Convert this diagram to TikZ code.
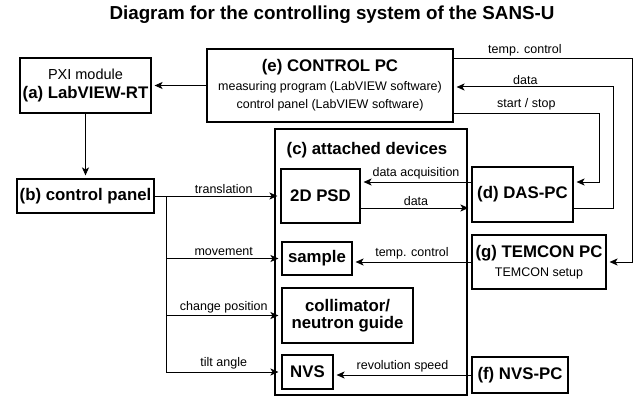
\documentclass[tikz,border=0pt]{standalone}
\usepackage{fontspec}
\setmainfont{Liberation Sans}
\usetikzlibrary{arrows.meta}

\newcommand\txtreg{\fontsize{12.5}{15}\selectfont\mdseries}
\newcommand\txtbold{\fontsize{16.8}{19}\selectfont\bfseries}
\newcommand\txttitle{\fontsize{18.8}{22}\selectfont\bfseries}

\begin{document}
\begin{tikzpicture}[x=1pt, y=-1pt,
  unit/.style={draw, line width=1.1pt, inner sep=0pt, align=center, font=\txtbold},
  link/.style={->, line width=1pt, >={Stealth[length=8pt,width=7pt,inset=2pt]}, shorten >=3pt},
  tag/.style={font=\txtreg, inner sep=2pt}]
\useasboundingbox (0,0) rectangle (640,396);
\node[font=\txttitle] (title) at (332,15) {Diagram for the controlling system of the SANS-U};
% PCs and panel
\node[unit, minimum width=131pt, minimum height=55pt] (rt) at (85.5,85.5) {{\fontsize{14.5}{17}\selectfont\mdseries PXI module}\\(a) LabVIEW-RT};
\node[unit, minimum width=246pt, minimum height=73pt] (ctrl) at (330,85.5) {(e) CONTROL PC\\{\txtreg measuring program (LabVIEW software)}\\[-1pt]{\txtreg control panel (LabVIEW software)}};
\node[unit, minimum width=137pt, minimum height=34pt] (panel) at (85.5,196) {(b) control panel};
\node[unit, minimum width=101pt, minimum height=55pt] (das) at (522.5,194.5) {(d) DAS-PC};
\node[unit, minimum width=134pt, minimum height=54pt] (temcon) at (539,262) {(g) TEMCON PC\\{\txtreg TEMCON setup}};
\node[unit, minimum width=96pt, minimum height=36pt] (nvspc) at (520,375) {(f) NVS-PC};
% Attached devices
\node[draw, line width=1.1pt, minimum width=192pt, minimum height=266pt] (devices) at (371,262) {};
\node[font=\txtbold] (devlabel) at (367,150) {(c) attached devices};
\node[unit, minimum width=79pt, minimum height=54pt] (psd) at (320.5,196) {2D PSD};
\node[unit, minimum width=70pt, minimum height=33pt] (sample) at (317,258.5) {sample};
\node[unit, minimum width=131pt, minimum height=55pt] (colli) at (347.5,315.5) {collimator/\\[-2pt]neutron guide};
\node[unit, minimum width=51pt, minimum height=34pt] (nvs) at (307.5,372) {NVS};
% Arrows
\coordinate (fork) at (166,196);
\draw[link] (ctrl.west) -- (rt.east);
\draw[link] (rt.south) -- (panel.north);
\draw[link] (panel.east) -- node[tag, above, pos=0.55] {translation} (psd.west);
\draw[link] (fork) |- node[tag, above, pos=0.75] {movement} (sample.west);
\draw[link] (fork) |- node[tag, above, pos=0.75] {change position} (colli.west);
\draw[link] (fork) |- node[tag, above, pos=0.75] {tilt angle} (nvs.west);
\draw[link] (das.west |- 0,182) -- node[tag, above] {data acquisition} (psd.east |- 0,182);
\draw[link] (psd.east |- 0,208) -- node[tag, above] {data} (das.west |- 0,208);
\draw[link] (temcon.west) -- node[tag, above] {temp. control} (sample.east |- temcon.west);
\draw[link] (nvspc.west) -- node[tag, above] {revolution speed} (nvs.east |- nvspc.west);
% Lines round the right side
\draw[link] (ctrl.east |- 0,59) -- node[tag, above, pos=0.4] {temp. control} (632,59) |- (temcon.east);
\draw[link] (das.east |- 0,208) -- (613,208) -- (613,87) -- node[tag, above, pos=0.55] {data} (ctrl.east |- 0,87);
\draw[link] (ctrl.east |- 0,113) -- node[tag, above] {start / stop} (599,113) |- (das.east |- 0,182);
\end{tikzpicture}
\end{document}
